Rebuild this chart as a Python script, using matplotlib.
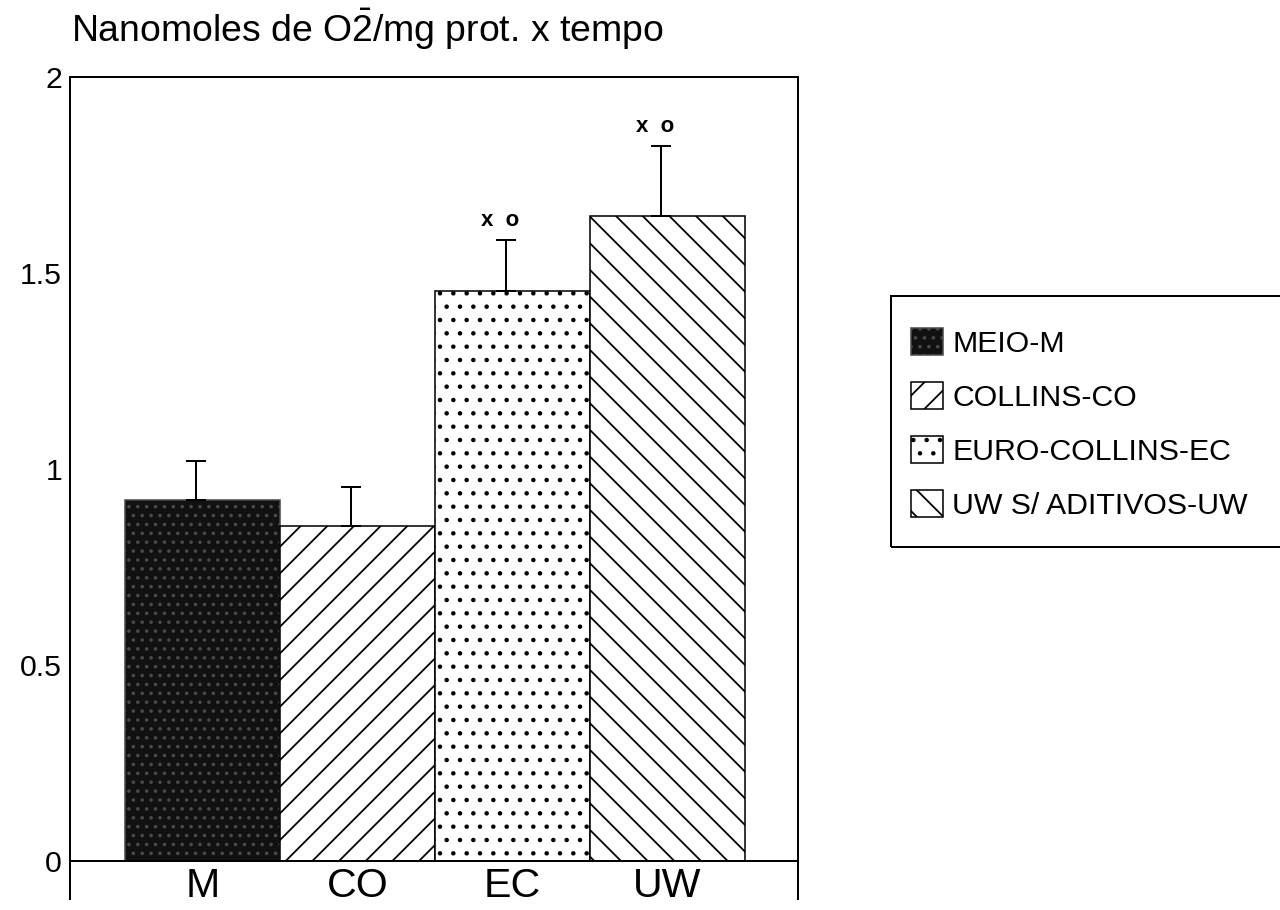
import numpy as np
import matplotlib.pyplot as plt
from matplotlib.patches import Rectangle

# Data
groups = ['M', 'CO', 'EC', 'UW']
legend_names = ['MEIO-M', 'COLLINS-CO', 'EURO-COLLINS-EC', 'UW S/ ADITIVOS-UW']
means = [0.92, 0.855, 1.455, 1.645]
errors = [0.10, 0.10, 0.13, 0.18]
marks = ['', '', 'x  o', 'x  o']

# Styles
hatches = ['...', '//', '..', '\\\\']
faces = ['#111111', 'white', 'white', 'white']
edges = ['#4a4a4a', 'black', 'black', 'black']

plt.rcParams['font.family'] = ['Liberation Sans', 'DejaVu Sans']
plt.rcParams['hatch.linewidth'] = 0.8
plt.rcParams['mathtext.fontset'] = 'custom'
plt.rcParams['mathtext.rm'] = 'Liberation Sans'

W, H = 1280, 910
fig = plt.figure(figsize=(8, 5.6875), dpi=160)
ax = fig.add_axes([70 / W, 49 / H, 728 / W, 784 / H])

x = np.arange(len(groups))
bars = ax.bar(x, means, width=1.0, color=faces, linewidth=0.7)
for p, h, ec in zip(bars, hatches, edges):
    p.set_hatch(h)
    p.set_edgecolor(ec)

# upper error bars only
ax.errorbar(x - 0.04, means, yerr=[np.zeros(len(means)), errors], fmt='none',
            ecolor='black', elinewidth=0.9, capsize=4.5, capthick=0.9)

# significance marks
for xi, m, e, s in zip(x, means, errors, marks):
    if s:
        ax.annotate(s, (xi - 0.04, m + e), xytext=(-3, 4), textcoords='offset points',
                    ha='center', va='bottom', fontsize=10, fontweight='bold')

ax.set_xlim(-0.855, 3.842)
ax.set_ylim(0, 2)
ax.set_yticks([0, 0.5, 1, 1.5, 2])
ax.set_yticklabels(['0', '0.5', '1', '1.5', '2'])
ax.tick_params(axis='y', length=0, pad=3.6, labelsize=13.6)

ax.set_xticks(x)
ax.set_xticklabels(groups)
ax.tick_params(axis='x', which='major', length=0, pad=2.5, labelsize=18.5)
ax.set_xticks(ax.get_xlim(), minor=True)
ax.tick_params(axis='x', which='minor', length=17.5, width=0.9, direction='out')

for sp in ax.spines.values():
    sp.set_linewidth(0.9)

# title
fig.text(71 / W, 1 - 42 / H, r'Nanomoles de O$\bar{\mathrm{2}}$/mg prot. x tempo',
         fontsize=16.8, ha='left', va='baseline')

# legend (frame drawn separately, it runs off the right edge)
ax.legend(bars, legend_names, loc='upper left', bbox_to_anchor=(911 / W, 1 - 328 / H),
          bbox_transform=fig.transFigure, frameon=False, fontsize=13.6,
          handlelength=1.07, handleheight=1.0, handletextpad=0.3,
          labelspacing=0.8, borderpad=0, borderaxespad=0)
fig.add_artist(Rectangle((891 / W, 1 - 547 / H), 400 / W, 251 / H,
                         transform=fig.transFigure, fill=False, lw=0.9, ec='black'))

fig.savefig('out.png', dpi=160)
